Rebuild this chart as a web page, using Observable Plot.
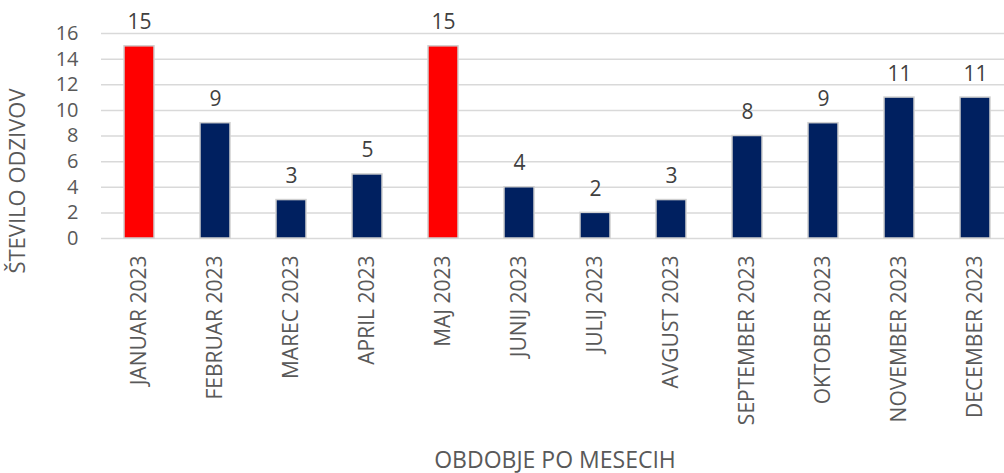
<!DOCTYPE html>
<html>
<head>
<meta charset="utf-8">
<script src="https://cdn.jsdelivr.net/npm/d3@7"></script>
<script src="https://cdn.jsdelivr.net/npm/@observablehq/plot@0.6"></script>
<style>
  html, body { margin: 0; padding: 0; background: #fff; overflow: hidden; }
</style>
</head>
<body>
<div id="chart"></div>
<script>
const months = ["JANUAR 2023", "FEBRUAR 2023", "MAREC 2023", "APRIL 2023", "MAJ 2023", "JUNIJ 2023",
  "JULIJ 2023", "AVGUST 2023", "SEPTEMBER 2023", "OKTOBER 2023", "NOVEMBER 2023", "DECEMBER 2023"];
const values = [15, 9, 3, 5, 15, 4, 2, 3, 8, 9, 11, 11];
const highlighted = ["JANUAR 2023", "MAJ 2023"];
const yTicks = [0, 2, 4, 6, 8, 10, 12, 14, 16];
const yTitle = "ŠTEVILO ODZIVOV";
const xTitle = "OBDOBJE PO MESECIH";

const RED = "#ff0000", NAVY = "#002060";
const data = months.map((m, i) => ({month: m, value: values[i]}));

const font = "'Open Sans', sans-serif";
const chart = Plot.plot({
  width: 1004,
  height: 473,
  marginLeft: 101,
  marginRight: -10,
  marginTop: 33,
  marginBottom: 235,
  style: {fontFamily: font, color: "#595959", background: "#fff"},
  x: {domain: months, paddingInner: 0.6, paddingOuter: 0.3, label: null},
  y: {domain: [0, 16], label: null},
  marks: [
    Plot.gridY(yTicks, {stroke: "#d9d9d9", strokeOpacity: 1, strokeWidth: 1.5}),
    Plot.barY(data, {
      x: "month", y: "value",
      fill: d => highlighted.includes(d.month) ? RED : NAVY,
      stroke: "#d0d0d0", strokeWidth: 1.5
    }),
    Plot.text(data, {
      x: "month", y: "value", text: d => String(d.value),
      lineAnchor: "bottom", dy: -17, fontSize: 21, fill: "#404040"
    }),
    Plot.axisY({ticks: yTicks, tickSize: 0, tickPadding: 23, fontSize: 20, label: null, fill: "#595959"}),
    Plot.axisX({tickRotate: -90, tickSize: 0, tickPadding: 17, fontSize: 21, label: null, fill: "#595959"}),
    Plot.text([yTitle], {
      frameAnchor: "left", rotate: -90, dx: -84, dy: 45,
      fontSize: 22, fill: "#595959", textAnchor: "middle"
    }),
    Plot.text([xTitle], {
      frameAnchor: "bottom", dx: -3, dy: 229,
      fontSize: 23, fill: "#595959", textAnchor: "middle"
    })
  ]
});
document.getElementById("chart").appendChild(chart);
</script>
</body>
</html>
